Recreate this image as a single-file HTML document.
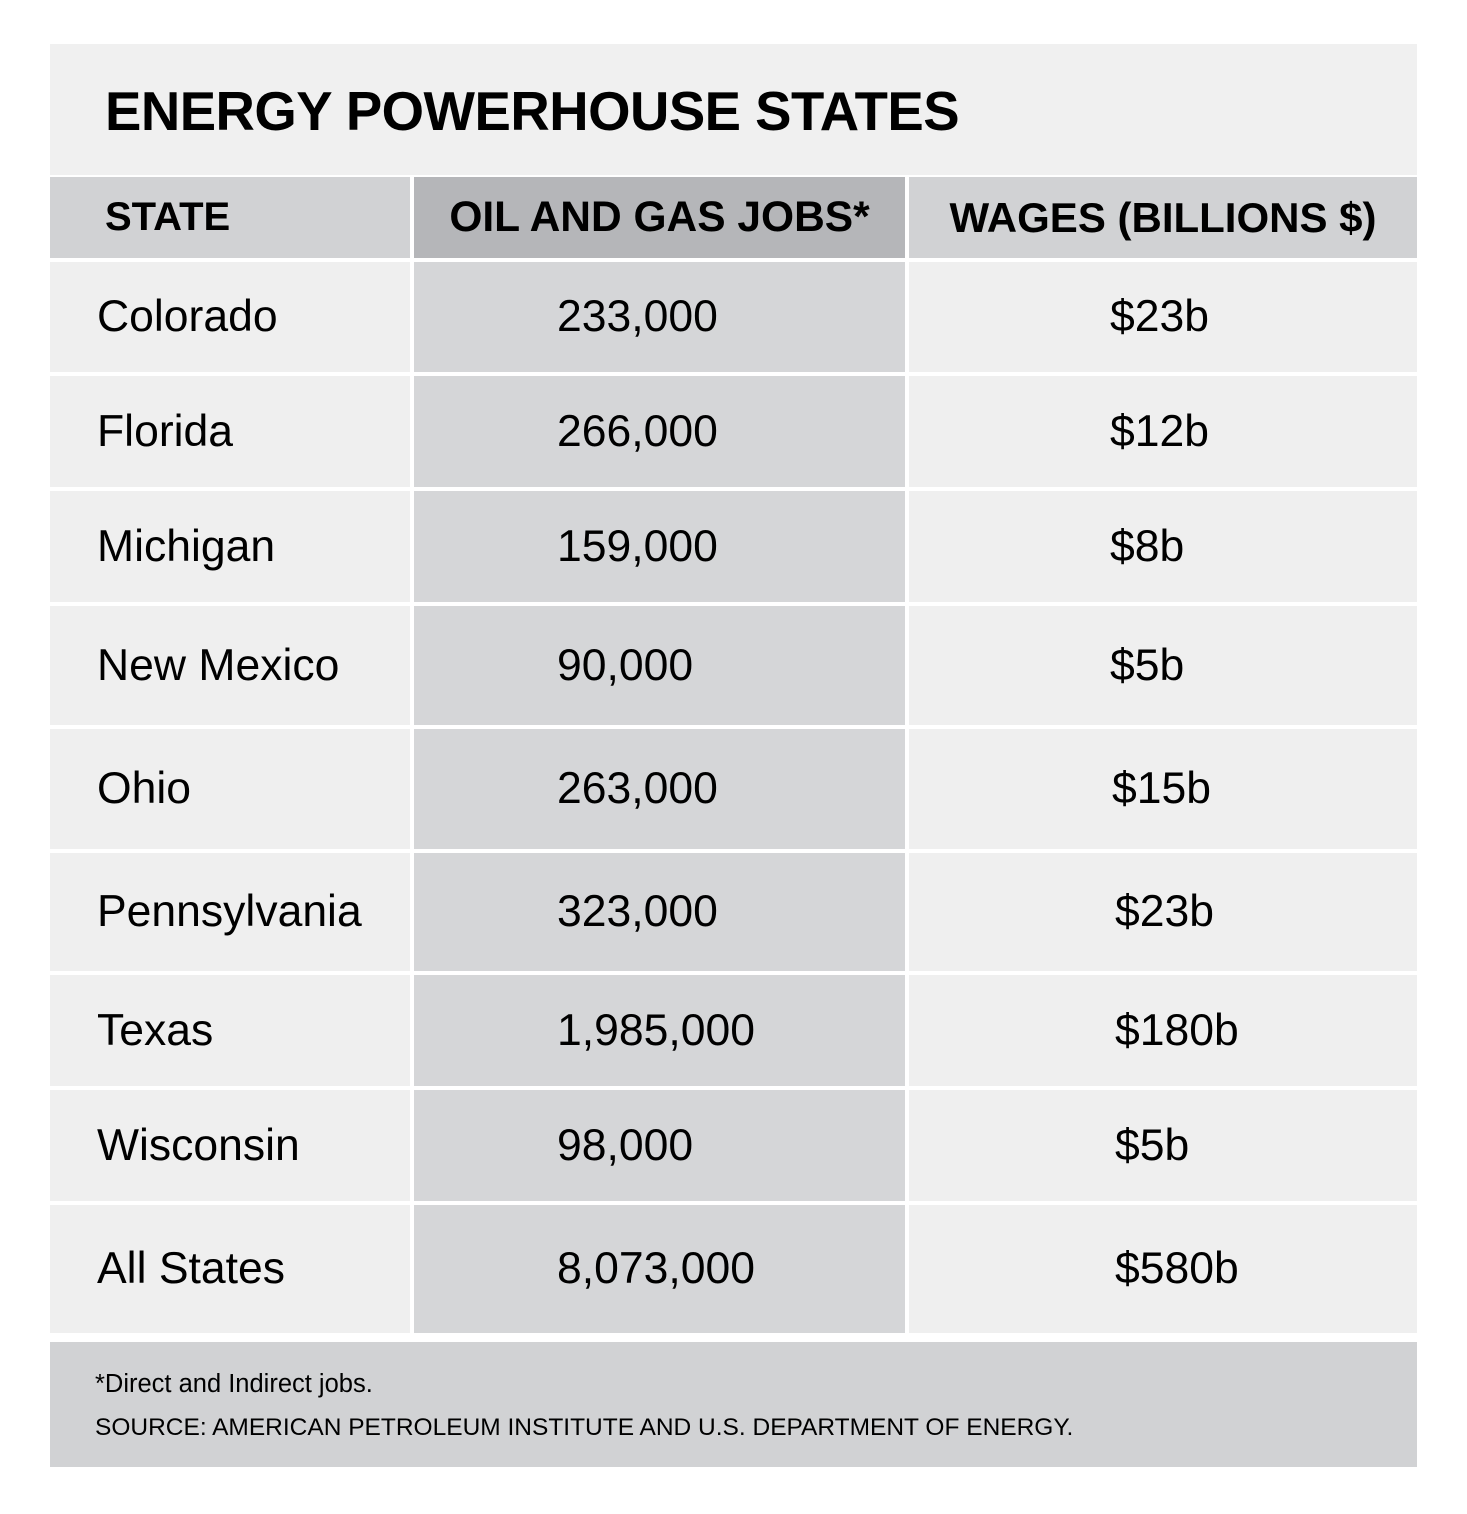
<!DOCTYPE html>
<html><head><meta charset="utf-8"><style>
body{margin:0;width:1467px;height:1514px;background:#fff;position:relative;font-family:"Liberation Sans",sans-serif;color:#000;overflow:hidden}
div{position:absolute;box-sizing:border-box}
.t{white-space:nowrap;display:flex;align-items:center}
.c1{left:50px;width:360px;background:#efefef;padding-left:47px}
.c2{left:414px;width:491px;background:#d5d6d8;padding-left:143px}
.c3{left:909px;width:508px;background:#efefef}
.b{font-size:44.5px}
</style></head><body>
<div style="left:50px;top:44px;width:1367px;height:131px;background:#f0f0f0"></div>
<div class="t" style="left:105px;top:78px;height:66px;font-size:54.5px;font-weight:bold;letter-spacing:-0.5px">ENERGY POWERHOUSE STATES</div>

<div class="t c1" style="top:177px;height:81px;background:#d1d2d4;font-size:40px;font-weight:bold;padding-left:55px">STATE</div>
<div class="t" style="left:414px;top:177px;width:491px;height:81px;background:#b5b6b9;font-size:42.5px;font-weight:bold;justify-content:center">OIL AND GAS JOBS*</div>
<div class="t" style="left:909px;top:177px;width:508px;height:81px;background:#d1d2d4;font-size:42px;font-weight:bold;justify-content:center">WAGES (BILLIONS $)</div>

<div class="t c1 b" style="top:262px;height:110px">Colorado</div><div class="t c2 b" style="top:262px;height:110px">233,000</div><div class="t c3 b" style="top:262px;height:110px;padding-left:201px">$23b</div>
<div class="t c1 b" style="top:376px;height:111px">Florida</div><div class="t c2 b" style="top:376px;height:111px">266,000</div><div class="t c3 b" style="top:376px;height:111px;padding-left:201px">$12b</div>
<div class="t c1 b" style="top:491px;height:111px">Michigan</div><div class="t c2 b" style="top:491px;height:111px">159,000</div><div class="t c3 b" style="top:491px;height:111px;padding-left:201px">$8b</div>
<div class="t c1 b" style="top:606px;height:119px">New Mexico</div><div class="t c2 b" style="top:606px;height:119px">90,000</div><div class="t c3 b" style="top:606px;height:119px;padding-left:201px">$5b</div>
<div class="t c1 b" style="top:729px;height:120px">Ohio</div><div class="t c2 b" style="top:729px;height:120px">263,000</div><div class="t c3 b" style="top:729px;height:120px;padding-left:203px">$15b</div>
<div class="t c1 b" style="top:853px;height:118px">Pennsylvania</div><div class="t c2 b" style="top:853px;height:118px">323,000</div><div class="t c3 b" style="top:853px;height:118px;padding-left:206px">$23b</div>
<div class="t c1 b" style="top:975px;height:111px">Texas</div><div class="t c2 b" style="top:975px;height:111px">1,985,000</div><div class="t c3 b" style="top:975px;height:111px;padding-left:206px">$180b</div>
<div class="t c1 b" style="top:1090px;height:111px">Wisconsin</div><div class="t c2 b" style="top:1090px;height:111px">98,000</div><div class="t c3 b" style="top:1090px;height:111px;padding-left:206px">$5b</div>
<div class="t c1 b" style="top:1205px;height:128px">All States</div><div class="t c2 b" style="top:1205px;height:128px">8,073,000</div><div class="t c3 b" style="top:1205px;height:128px;padding-left:206px">$580b</div>

<div style="left:50px;top:1342px;width:1367px;height:125px;background:#d1d2d4"></div>
<div class="t" style="left:95px;top:1368px;height:32px;font-size:25.5px">*Direct and Indirect jobs.</div>
<div class="t" style="left:95px;top:1412px;height:32px;font-size:24.5px">SOURCE: AMERICAN PETROLEUM INSTITUTE AND U.S. DEPARTMENT OF ENERGY.</div>
</body></html>
